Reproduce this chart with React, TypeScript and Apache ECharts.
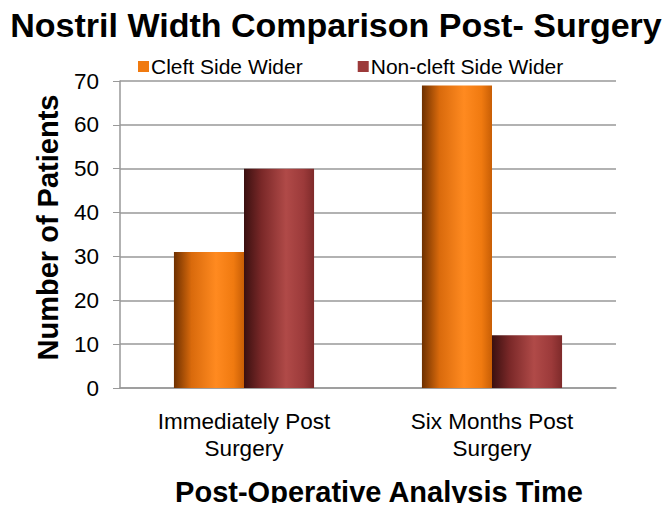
import React, { useEffect, useRef } from "react";
import * as echarts from "echarts";

const categories = ["Immediately Post\nSurgery", "Six Months Post\nSurgery"];
const cleftWider = [31, 69];
const nonCleftWider = [50, 12];
const seriesNames = ["Cleft Side Wider", "Non-cleft Side Wider"];

const FONT = "Liberation Sans, Arial, sans-serif";

function grad(stops: [number, string][]) {
  return new echarts.graphic.LinearGradient(
    0, 0, 1, 0,
    stops.map(([offset, color]) => ({ offset, color }))
  );
}

export default function App() {
  const ref = useRef<HTMLDivElement>(null);
  useEffect(() => {
    if (!ref.current) return;
    const chart = echarts.init(ref.current, undefined, { renderer: "svg" });
    chart.setOption({
      animation: false,
      backgroundColor: "#ffffff",
      title: {
        text: "Nostril Width Comparison Post- Surgery",
        left: "center",
        top: 3,
        textStyle: { fontFamily: FONT, fontWeight: "bold", fontSize: 34, color: "#000" },
      },
      legend: {
        top: 51,
        left: 133,
        itemGap: 55,
        itemWidth: 11,
        itemHeight: 11,
        icon: "rect",
        textStyle: { fontFamily: FONT, fontSize: 21, color: "#000", padding: [0, 0, 0, -3] },
        data: [
          { name: seriesNames[0], itemStyle: { color: "#f07a10" } },
          { name: seriesNames[1], itemStyle: { color: "#9c3a3a" } },
        ],
      },
      grid: { left: 120, right: 56, top: 81, bottom: 118, containLabel: false },
      xAxis: {
        type: "category",
        data: categories,
        name: "Post-Operative Analysis Time",
        nameLocation: "middle",
        nameGap: 89,
        nameTextStyle: {
          fontFamily: FONT, fontWeight: "bold", fontSize: 29, color: "#000",
          padding: [0, 0, 0, 22],
        },
        axisLine: { lineStyle: { color: "#999", width: 1.5 } },
        axisTick: { show: false },
        axisLabel: { fontFamily: FONT, fontSize: 22.5, color: "#000", margin: 20, lineHeight: 27 },
      },
      yAxis: {
        type: "value",
        min: 0,
        max: 70,
        interval: 10,
        name: "Number of Patients",
        nameLocation: "middle",
        nameGap: 58,
        nameTextStyle: {
          fontFamily: FONT, fontWeight: "bold", fontSize: 29, color: "#000",
          padding: [0, 0, 0, 14],
        },
        axisLine: { show: true, lineStyle: { color: "#999", width: 1.5 } },
        axisTick: { show: true, length: 7, inside: false, lineStyle: { color: "#999" } },
        axisLabel: { fontFamily: FONT, fontSize: 22.5, color: "#000", margin: 21 },
        splitLine: { lineStyle: { color: "#999", width: 1.5 } },
      },
      series: [
        {
          name: seriesNames[0],
          type: "bar",
          data: cleftWider,
          barGap: "0%",
          barCategoryGap: "43.5%",
          itemStyle: {
            color: grad([
              [0, "#6e3000"],
              [0.25, "#d96a0c"],
              [0.6, "#ff8a20"],
              [0.85, "#f07a10"],
              [1, "#c85e05"],
            ]),
          },
        },
        {
          name: seriesNames[1],
          type: "bar",
          data: nonCleftWider,
          itemStyle: {
            color: grad([
              [0, "#3a1010"],
              [0.25, "#7a2828"],
              [0.6, "#b04a48"],
              [0.85, "#9c3a3a"],
              [1, "#7e2a2a"],
            ]),
          },
        },
      ],
    });
    return () => chart.dispose();
  }, []);
  return <div ref={ref} style={{ width: 672, height: 511, margin: -8 }} />;
}
